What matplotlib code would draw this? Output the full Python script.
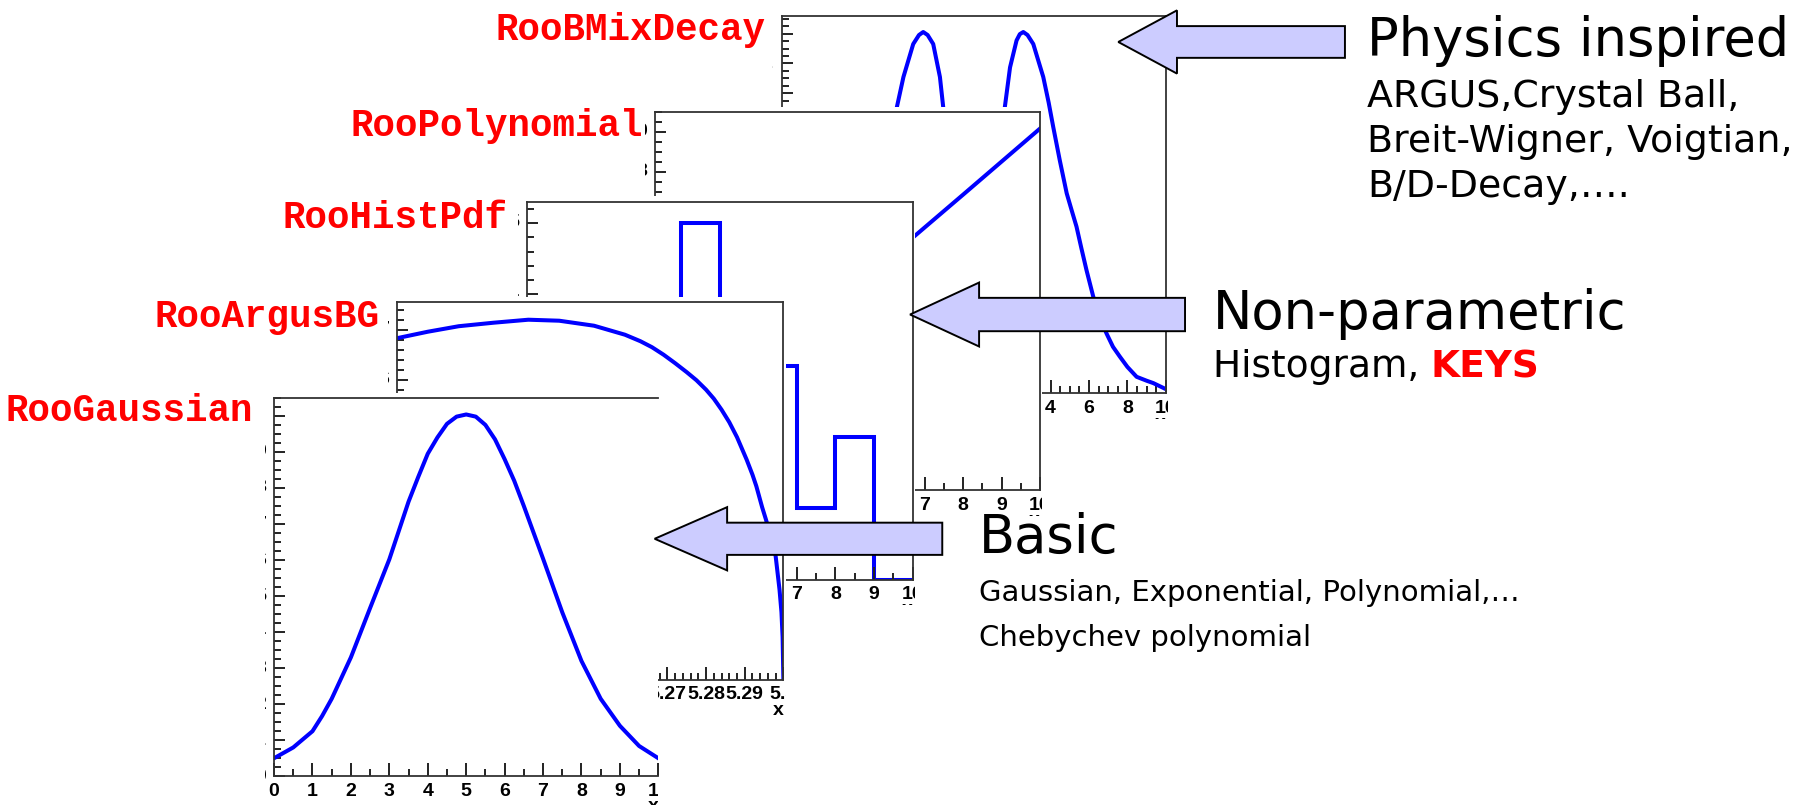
import matplotlib
matplotlib.use("Agg")
import matplotlib.pyplot as plt
from matplotlib.patches import Polygon
from matplotlib.ticker import MultipleLocator

# layout units: the slide as seen at 1568 x 700
W, H = 1568.0, 700.0

# RooGaussian
gaus_x = [0, 0.5, 1.0, 1.25, 1.5, 2.0, 2.5, 3.0, 3.5, 3.75, 4.0, 4.25, 4.5, 4.75, 5.0,
          5.25, 5.5, 5.75, 6.0, 6.25, 6.5, 7.0, 7.5, 8.0, 8.5, 9.0, 9.5, 10]
gaus_y = [0.50, 0.80, 1.25, 1.67, 2.15, 3.30, 4.67, 6.02, 7.62, 8.30, 8.95, 9.40, 9.78, 9.98, 10.04,
          9.98, 9.75, 9.35, 8.80, 8.20, 7.50, 6.04, 4.55, 3.20, 2.15, 1.40, 0.84, 0.50]

# RooArgusBG
argus_x = [5.200, 5.208, 5.216, 5.225, 5.234, 5.242, 5.251, 5.259, 5.263, 5.266,
           5.269, 5.272, 5.275, 5.2775, 5.280, 5.282, 5.284, 5.286, 5.288, 5.2905,
           5.292, 5.293, 5.2945, 5.2955, 5.2968, 5.298, 5.299, 5.2995, 5.2998, 5.300]
argus_y = [6.83, 6.96, 7.07, 7.14, 7.20, 7.18, 7.08, 6.90, 6.77, 6.65,
           6.50, 6.33, 6.15, 5.99, 5.80, 5.62, 5.40, 5.15, 4.85, 4.40,
           4.10, 3.87, 3.45, 3.20, 2.85, 2.47, 1.80, 1.35, 0.85, 0.0]

# RooHistPdf
hist_edges = [0, 1, 2, 3, 4, 5, 6, 7, 8, 9, 10]
hist_counts = [0, 1, 1, 2, 5, 3, 3, 1, 2, 0]

# RooPolynomial
poly_x = [0, 2, 4, 6, 8, 10]
poly_y = [0.80, 2.45, 4.11, 5.77, 7.42, 9.08]

# RooBMixDecay
bmix_x = [-10, -8, -6, -5, -4.5, -4.0, -3.66, -3.15, -2.85, -2.63, -2.4, -2.11, -1.76, -1.59,
          -1.2, -0.6, 0, 0.6, 1.2, 1.62, 1.89, 2.23, 2.4, 2.58, 2.8, 3.10, 3.62, 3.9, 4.14,
          4.48, 4.84, 5.1, 5.35, 5.6, 5.87, 6.22, 6.55, 6.91, 7.25, 7.61, 8.0, 8.48, 9.0, 9.35, 10]
bmix_y = [0.13, 0.38, 1.0, 3.8, 6.9, 9.55, 10.55, 11.65, 11.95, 12.05, 11.95, 11.65, 10.55, 9.55,
          6.9, 2.5, 0.6, 2.5, 6.9, 9.55, 10.87, 11.77, 11.98, 12.05, 11.95, 11.65, 10.55, 9.7, 8.88,
          7.77, 6.67, 6.1, 5.56, 4.85, 4.11, 3.23, 2.55, 2.0, 1.55, 1.22, 0.88, 0.55, 0.42, 0.34, 0.14]

BLUE = "#0000ff"
FRAME = "#333333"
TICKFONT = dict(family=["Liberation Sans Narrow", "Liberation Sans"], weight="bold", size=14)

fig = plt.figure(figsize=(18.04, 8.05), dpi=100)


def panel(frame, image, z, xlim, ylim, xmaj, xmin, ymaj, ymin, xfmt="{:g}", right=True):
    fl, ft, fr, fb = frame
    il, it, ir, ib = image
    # white picture behind the frame, also used to crop the tick labels
    bg = fig.add_axes([il / W, 1 - ib / H, (ir - il) / W, (ib - it) / H], zorder=z)
    bg.set_xticks([])
    bg.set_yticks([])
    for s in bg.spines.values():
        s.set_visible(False)
    bg.set_facecolor("white")

    ax = fig.add_axes([fl / W, 1 - fb / H, (fr - fl) / W, (fb - ft) / H], zorder=z + 1)
    ax.set_facecolor("none")
    ax.set_xlim(*xlim)
    ax.set_ylim(*ylim)
    ax.xaxis.set_major_locator(MultipleLocator(xmaj))
    ax.xaxis.set_minor_locator(MultipleLocator(xmin))
    ax.yaxis.set_major_locator(MultipleLocator(ymaj))
    ax.yaxis.set_minor_locator(MultipleLocator(ymin))
    ax.tick_params(which="both", direction="in", top=False, right=False,
                   labelbottom=False, labelleft=False, color="#222222", width=1.4)
    ax.tick_params(axis="x", which="major", length=9.4)
    ax.tick_params(axis="x", which="minor", length=4.7)
    ax.tick_params(axis="y", which="major", length=8)
    ax.tick_params(axis="y", which="minor", length=4.8)
    for s in ax.spines.values():
        s.set_color(FRAME)
        s.set_linewidth(1.3)
    ax.spines["right"].set_visible(right)

    hs = fb - ft
    ws = fr - fl
    for v in ax.get_xticks():
        if xlim[0] - 1e-9 <= v <= xlim[1] + 1e-9:
            bg.text(v, -5.5 / hs, xfmt.format(round(v, 4)), transform=ax.get_xaxis_transform(),
                    ha="center", va="top", clip_on=True, **TICKFONT)
    for v in ax.get_yticks():
        if ylim[0] - 1e-9 <= v <= ylim[1] + 1e-9:
            bg.text(-7 / ws, v, "{:g}".format(round(v, 4)), transform=ax.get_yaxis_transform(),
                    ha="right", va="center", clip_on=True, **TICKFONT)
    bg.text(1.0, -19 / hs, "x", transform=ax.transAxes, ha="right", va="top",
            clip_on=True, **TICKFONT)
    return ax


# back to front
ax = panel((679.4, 13.5, 1013.3, 342), (671, 9, 1015.5, 364), 2,
           (-10, 10), (0, 12.6), 2, 0.5, 1, 0.25)
ax.plot(bmix_x, bmix_y, color=BLUE, lw=2.9)

ax = panel((569.3, 97.2, 904, 426.5), (561, 92.7, 906, 449), 4,
           (0, 10), (0, 9.5), 1, 0.5, 1, 0.25)
ax.plot(poly_x, poly_y, color=BLUE, lw=2.9)

ax = panel((458, 175.3, 793.2, 504), (450, 170.8, 795.2, 526), 6,
           (0, 10), (0, 5.3), 1, 0.5, 1, 0.2)
ax.stairs(hist_counts, hist_edges, color=BLUE, lw=2.9)

ax = panel((345, 262.8, 680.9, 591), (337, 258.3, 682.9, 623), 8,
           (5.2, 5.3), (0, 7.55), 0.01, 0.002, 1, 0.2)
ax.plot(argus_x, argus_y, color=BLUE, lw=2.9)

ax = panel((238.2, 346, 572.2, 675), (230, 341.5, 572.2, 700), 10,
           (0, 10), (0, 10.5), 1, 0.5, 1, 0.25, right=False)
ax.plot(gaus_x, gaus_y, color=BLUE, lw=2.9)

# overlay for labels, arrows and the slide text
page = fig.add_axes([0, 0, 1, 1], zorder=30)
page.set_xlim(0, W)
page.set_ylim(H, 0)
page.axis("off")

red = dict(color="#ff0000", family="Liberation Mono", weight="bold", size=27,
           ha="right", va="baseline")
page.text(665, 34.5, "RooBMixDecay", **red)
page.text(559, 118, "RooPolynomial", **red)
page.text(441, 198.5, "RooHistPdf", **red)
page.text(330, 284, "RooArgusBG", **red)
page.text(220, 366.5, "RooGaussian", **red)


def arrow(tip, y, head_len, head_half, shaft_half, end):
    pts = [(tip, y), (tip + head_len, y - head_half), (tip + head_len, y - shaft_half),
           (end, y - shaft_half), (end, y + shaft_half), (tip + head_len, y + shaft_half),
           (tip + head_len, y + head_half)]
    page.add_patch(Polygon(pts, closed=True, facecolor="#ccccff", edgecolor="black",
                           linewidth=1.4, joinstyle="miter"))


arrow(972, 36.5, 51, 27.5, 13.8, 1169)
arrow(791, 273.5, 60, 27.8, 14.5, 1030)
arrow(569, 468.5, 63, 27.5, 14, 819)

big = dict(family="DejaVu Sans", size=38, color="black", va="baseline", ha="left")
small = dict(family="DejaVu Sans", size=27.3, color="black", va="baseline", ha="left")
mid = dict(family="DejaVu Sans", size=27, color="black", va="baseline", ha="left")
basic_small = dict(family="DejaVu Sans", size=21, color="black", va="baseline", ha="left")

page.text(1188, 49, "Physics inspired", **big)
page.text(1188, 93, "ARGUS,Crystal Ball,", **small)
page.text(1188, 132, "Breit-Wigner, Voigtian,", **small)
page.text(1188, 171, "B/D-Decay,….", **small)

page.text(1054, 286, "Non-parametric", **big)
t = page.text(1054, 328, "Histogram, ", **mid)
page.annotate("KEYS", xy=(1, 0), xycoords=t, ha="left", va="bottom",
              family="DejaVu Sans", size=27, weight="bold", color="#ff0000")

page.text(851, 481, "Basic", **big)
page.text(851, 523, "Gaussian, Exponential, Polynomial,…", **basic_small)
page.text(851, 562, "Chebychev polynomial", **basic_small)

fig.savefig("out.png", dpi=100)
